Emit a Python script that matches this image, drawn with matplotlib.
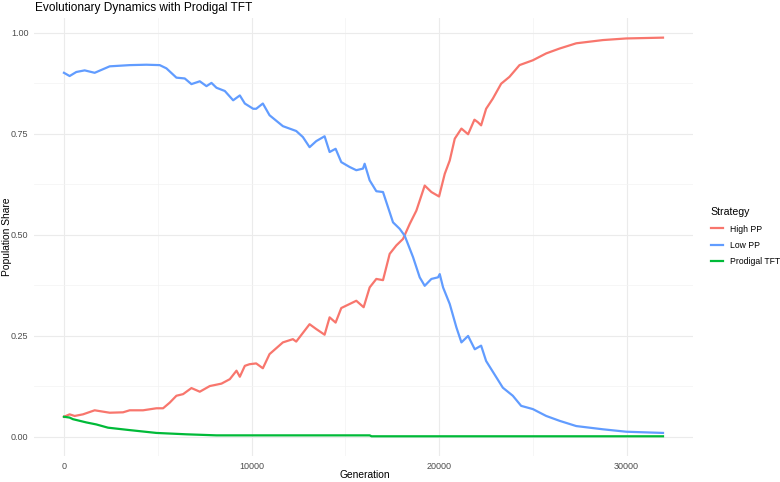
## Evolutionary dynamics of three strategies.
import matplotlib
matplotlib.use("Agg")
import matplotlib.pyplot as plt

plt.rcParams['font.family'] = ['Liberation Sans', 'DejaVu Sans']

# High PP share
high_gen = [0, 302, 569, 1014, 1637, 2438, 3149, 3505, 4217, 4929,
            5285, 5641, 5996, 6352, 6797, 7242, 7776, 8399, 8843, 9199,
            9377, 9644, 9893, 10249, 10605, 10961, 11673, 12206, 12384, 13096,
            13452, 13897, 14164, 14484, 14786, 15231, 15587, 15979, 16299, 16655,
            17011, 17367, 17723, 18078, 18434, 18790, 19235, 19591, 20000, 20303,
            20569, 20837, 21192, 21548, 21886, 22064, 22242, 22509, 22865, 23310,
            23754, 24288, 25000, 25712, 26423, 27313, 28737, 29982, 31940]
high_val = [0.050, 0.056, 0.052, 0.056, 0.066, 0.060, 0.061, 0.066, 0.066, 0.071,
            0.071, 0.085, 0.102, 0.106, 0.121, 0.112, 0.126, 0.132, 0.143, 0.164,
            0.149, 0.176, 0.180, 0.182, 0.170, 0.205, 0.234, 0.242, 0.236, 0.279,
            0.267, 0.253, 0.296, 0.283, 0.319, 0.329, 0.337, 0.321, 0.370, 0.391,
            0.388, 0.453, 0.474, 0.490, 0.527, 0.560, 0.622, 0.606, 0.595, 0.651,
            0.684, 0.738, 0.763, 0.749, 0.785, 0.779, 0.771, 0.812, 0.837, 0.874,
            0.891, 0.920, 0.932, 0.949, 0.961, 0.974, 0.982, 0.986, 0.988]

# Low PP share
low_gen = [0, 302, 658, 1103, 1637, 2438, 3505, 4395, 5107, 5463,
           5996, 6441, 6797, 7242, 7598, 7865, 8132, 8577, 9021, 9377,
           9644, 10089, 10249, 10605, 10961, 11673, 12384, 12740, 13096, 13452,
           13897, 14164, 14484, 14786, 15231, 15587, 15943, 16032, 16299, 16655,
           17011, 17189, 17545, 17900, 18167, 18612, 18968, 19235, 19591, 19947,
           20036, 20214, 20569, 20925, 21192, 21548, 21904, 22242, 22509, 22954,
           23399, 23932, 24377, 25000, 25712, 26423, 27313, 28737, 29982, 31940]
low_val = [0.901, 0.893, 0.903, 0.907, 0.901, 0.917, 0.920, 0.921, 0.920, 0.912,
           0.889, 0.887, 0.873, 0.880, 0.868, 0.876, 0.864, 0.856, 0.833, 0.845,
           0.825, 0.812, 0.812, 0.825, 0.796, 0.769, 0.757, 0.742, 0.717, 0.732,
           0.744, 0.705, 0.713, 0.680, 0.668, 0.660, 0.664, 0.676, 0.635, 0.608,
           0.606, 0.581, 0.531, 0.515, 0.498, 0.445, 0.395, 0.374, 0.391, 0.395,
           0.403, 0.370, 0.329, 0.271, 0.234, 0.250, 0.217, 0.226, 0.188, 0.155,
           0.122, 0.102, 0.077, 0.069, 0.052, 0.040, 0.027, 0.019, 0.013, 0.010]

# Prodigal TFT share
tft_gen = [0, 302, 480, 1192, 1726, 2349, 3505, 4929, 6530, 8132, 10445,
           11000, 16300, 16400, 31940]
tft_val = [0.050, 0.048, 0.044, 0.036, 0.031, 0.023, 0.017, 0.010, 0.0066, 0.004,
           0.004, 0.004, 0.004, 0.0017, 0.0017]

strategies = ["High PP", "Low PP", "Prodigal TFT"]
colors = ["#F8766D", "#619CFF", "#00BA38"]

fig = plt.figure(figsize=(7.8, 4.82), dpi=100)
ax = fig.add_axes([0.0436, 0.054, 0.8448, 0.909])

series = [(high_gen, high_val), (low_gen, low_val), (tft_gen, tft_val)]
for (g, v), name, c in zip(series, strategies, colors):
    ax.plot(g, v, color=c, lw=1.6, label=name, solid_joinstyle='round')

ax.set_xlim(-1597, 33537)
ax.set_ylim(-0.047, 1.037)
ax.set_xticks([0, 10000, 20000, 30000])
ax.set_xticks([5000, 15000, 25000], minor=True)
ax.set_yticks([0, 0.25, 0.5, 0.75, 1.0])
ax.set_yticklabels(["0.00", "0.25", "0.50", "0.75", "1.00"])
ax.set_yticks([0.125, 0.375, 0.625, 0.875], minor=True)
ax.grid(which='major', color='#EBEBEB', lw=0.8)
ax.grid(which='minor', color='#F3F3F3', lw=0.5)
ax.set_axisbelow(True)
for s in ax.spines.values():
    s.set_visible(False)
ax.tick_params(which='both', length=0, labelsize=6.5, labelcolor='#4D4D4D', pad=4)

# axis titles and plot title placed like the ggplot layout
fig.text(0.468, 0.014, "Generation", fontsize=7.4, ha='center', va='center')
fig.text(0.0085, 0.508, "Population Share", fontsize=7.4, rotation=90,
         ha='center', va='center')
fig.text(0.045, 0.983, "Evolutionary Dynamics with Prodigal TFT", fontsize=8.6,
         ha='left', va='center')

leg = fig.legend(loc='center left', bbox_to_anchor=(0.901, 0.509), frameon=False,
                 title="Strategy", fontsize=6.2, title_fontsize=7.6,
                 handlelength=1.5, handletextpad=0.8, labelspacing=0.85)
leg._legend_box.align = "left"
for line in leg.get_lines():
    line.set_linewidth(1.6)

fig.savefig("out.png", dpi=100)
